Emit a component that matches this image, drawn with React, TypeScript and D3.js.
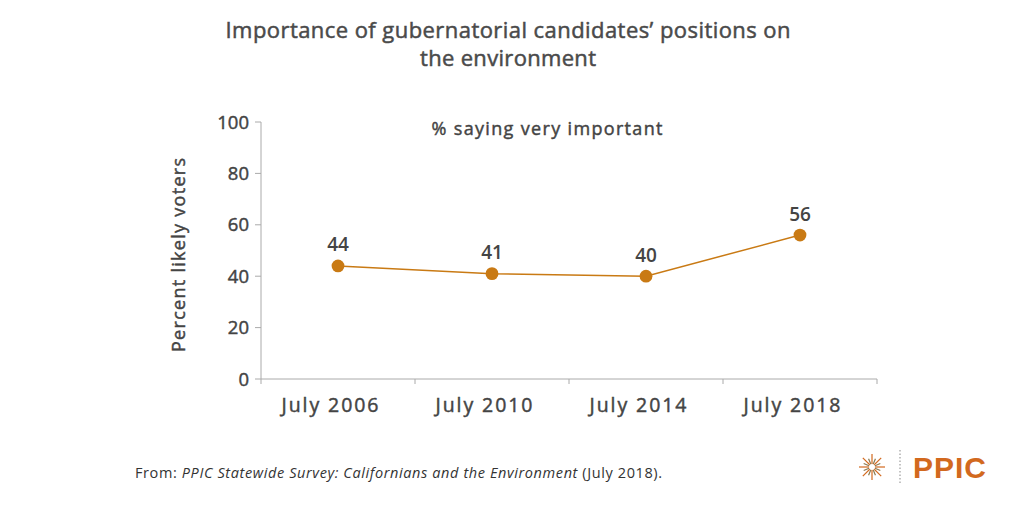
import React from "react";
import * as d3 from "d3";

const categories = ["July 2006", "July 2010", "July 2014", "July 2018"];
const values = [44, 41, 40, 56];
const yTicks = [0, 20, 40, 60, 80, 100];
const titleLines = ["Importance of gubernatorial candidates\u2019 positions on", "the environment"];
const subtitle = "% saying very important";
const yLabel = "Percent likely voters";

const W = 1024;
const H = 511;
const FONT = "'Open Sans', Lato, sans-serif";
const ORANGE = "#C97A14";
const TEXT = "#444";

export default function App() {
  const x = d3.scaleBand<string>().domain(categories).range([261, 877]);
  const y = d3.scaleLinear().domain([0, 100]).range([379, 122]);
  const line = d3
    .line<number>()
    .x((_, i) => (x(categories[i]) as number) + x.bandwidth() / 2)
    .y((d) => y(d));

  const rays = d3.range(16).map((i) => (i * Math.PI) / 8);
  const titleWidths = [565, 176];
  const med = { stroke: TEXT, strokeWidth: 0.45 };

  return (
    <svg width={W} height={H} style={{ position: "absolute", left: 0, top: 0, background: "#fff" }}>
      <rect width={W} height={H} fill="#fff" />
      {titleLines.map((t, i) => (
        <text
          key={i}
          x={508}
          y={38 + i * 28}
          textAnchor="middle"
          fontFamily={FONT}
          fontSize={22}
          fill="#4a4a4a"
          stroke="#4a4a4a"
          strokeWidth={0.5}
          textLength={titleWidths[i]}
          lengthAdjust="spacing"
        >
          {t}
        </text>
      ))}
      <text x={547} y={135} textAnchor="middle" fontFamily={FONT} fontSize={18} fill={TEXT} {...med} textLength={231} lengthAdjust="spacing">
        {subtitle}
      </text>
      {/* y axis */}
      <line x1={261} x2={261} y1={y(100)} y2={y(0)} stroke="#aaa" strokeWidth={1} />
      {yTicks.map((t) => (
        <g key={t}>
          <line x1={255} x2={261} y1={y(t)} y2={y(t)} stroke="#aaa" />
          <text x={249} y={y(t)} dy="0.36em" textAnchor="end" fontFamily={FONT} fontSize={18.5} fill={TEXT} {...med}>
            {t}
          </text>
        </g>
      ))}
      <text
        transform={`translate(185,${255}) rotate(-90)`}
        textAnchor="middle"
        fontFamily={FONT}
        fontSize={18}
        fill={TEXT}
        {...med}
        textLength={194}
        lengthAdjust="spacing"
      >
        {yLabel}
      </text>
      {/* x axis */}
      <line x1={261} x2={877} y1={y(0)} y2={y(0)} stroke="#aaa" />
      {[...categories.map((c) => x(c) as number), 877].map((p, i) => (
        <line key={i} x1={p} x2={p} y1={y(0)} y2={y(0) + 5} stroke="#aaa" />
      ))}
      {categories.map((c) => (
        <text
          key={c}
          x={(x(c) as number) + x.bandwidth() / 2 - 8}
          y={412}
          textAnchor="middle"
          fontFamily={FONT}
          fontSize={19.5}
          fill={TEXT}
          {...med}
          textLength={97}
          lengthAdjust="spacing"
        >
          {c}
        </text>
      ))}
      <path d={line(values) || ""} fill="none" stroke={ORANGE} strokeWidth={1.5} />
      {values.map((v, i) => {
        const cx = (x(categories[i]) as number) + x.bandwidth() / 2;
        return (
          <g key={i}>
            <circle cx={cx} cy={y(v)} r={6.4} fill={ORANGE} />
            <text x={cx} y={y(v) - 14.5} textAnchor="middle" fontFamily={FONT} fontWeight={600} fontSize={19} fill={TEXT}>
              {v}
            </text>
          </g>
        );
      })}
      {/* footer */}
      <text x={135} y={478} fontFamily={FONT} fontSize={14.5} fill="#333" textLength={527} lengthAdjust="spacing">
        From: <tspan fontStyle="italic">PPIC Statewide Survey: Californians and the Environment</tspan> (July 2018).
      </text>
      <g transform="translate(872,467)">
        {rays.map((a, i) => (
          <line
            key={i}
            x1={0}
            y1={0}
            x2={Math.cos(a) * (i % 2 ? 9 : 13)}
            y2={Math.sin(a) * (i % 2 ? 9 : 13)}
            stroke={i % 2 ? "#8a7a50" : "#D2691E"}
            strokeWidth={1.2}
          />
        ))}
        <circle r={3} fill="#fff" />
      </g>
      <line x1={900} x2={900} y1={450} y2={485} stroke="#888" strokeDasharray="1.5,2" />
      <text x={913} y={478} fontFamily="'Liberation Sans', Arial, sans-serif" fontWeight="bold" fontSize={30} fill="#D2691E" letterSpacing={1}>
        PPIC
      </text>
    </svg>
  );
}
